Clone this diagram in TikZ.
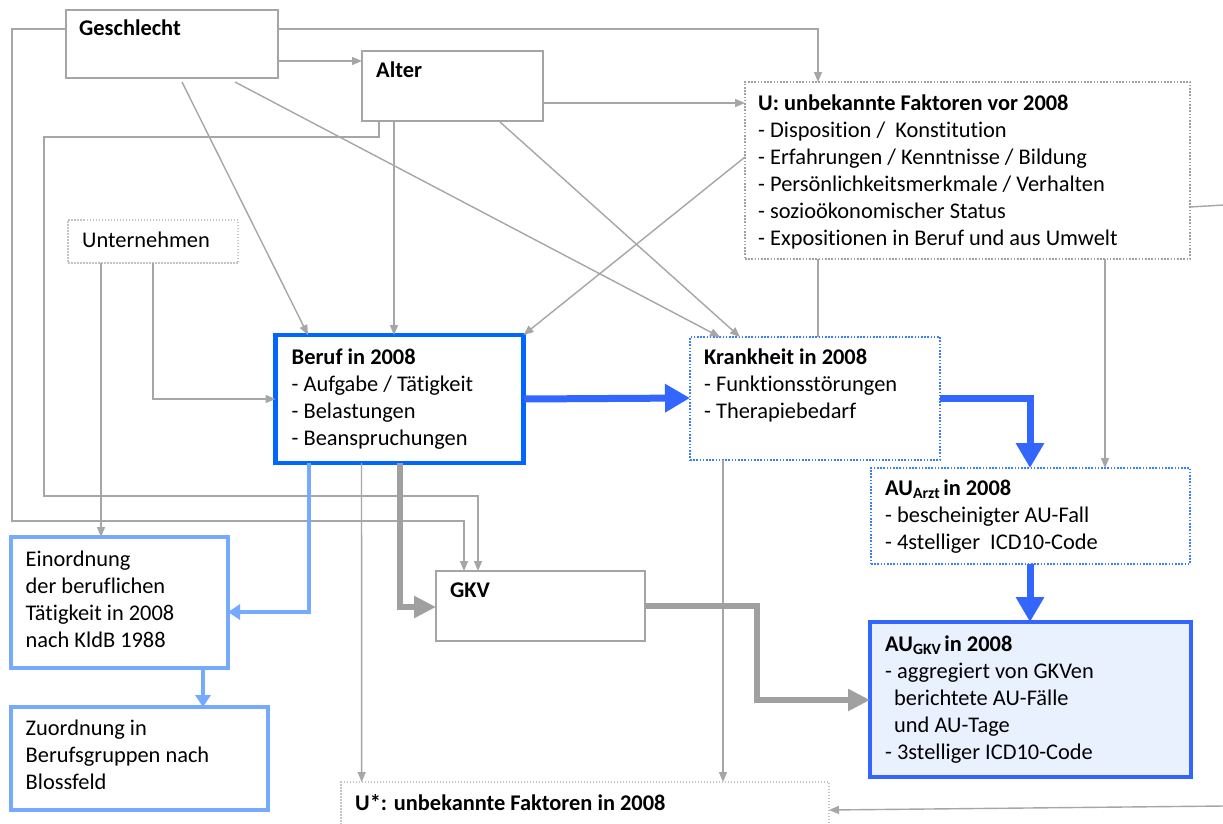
\documentclass[tikz,border=0pt]{standalone}
\usepackage{fontspec}
\setmainfont{Carlito}[Ligatures=NoCommon]
\usetikzlibrary{arrows.meta,calc}
\definecolor{lgray}{HTML}{A6A6A6}
\definecolor{bgray}{HTML}{A5A5A5}
\definecolor{dgray}{HTML}{A0A0A0}
\definecolor{ltgray}{HTML}{C4C4C4}
\definecolor{tgray}{HTML}{A0A0A0}
\definecolor{bblue}{HTML}{0066FF}
\definecolor{ablue}{HTML}{3366FF}
\definecolor{dblue}{HTML}{3A7BFF}
\definecolor{lblue}{HTML}{75AAFF}
\definecolor{gfill}{HTML}{EAF1FE}
\newcommand\mylines[1]{\vtop{\halign{##\hfil\cr#1\crcr}}}
\begin{document}
\begin{tikzpicture}[x=1pt,y=-1pt,
  bx/.style={anchor=north west, inner sep=0pt, outer sep=0pt},
  graybox/.style={bx, draw=bgray, line width=2.4pt},
  dotgray/.style={bx, draw=dgray, line width=1.6pt, dash pattern=on 1.6pt off 1.6pt},
  dotlight/.style={bx, draw=ltgray, line width=1.5pt, dash pattern=on 1.5pt off 1.5pt},
  dotblue/.style={bx, draw=dblue, line width=1.6pt, dash pattern=on 1.6pt off 1.6pt},
  berufbox/.style={bx, draw=bblue, line width=4.5pt},
  lbbox/.style={bx, draw=lblue, line width=4pt},
  gkvbox/.style={bx, draw=ablue, line width=4pt, fill=gfill},
  txt/.style={anchor=base west, inner sep=0pt, font=\fontsize{22.4}{27}\selectfont},
  btxt/.style={anchor=base west, inner sep=0pt, font=\fontsize{22.4}{27}\selectfont\bfseries},
  gline/.style={draw=lgray, line width=1.4pt},
  garrow/.style={draw=lgray, line width=1.4pt, -{Triangle[length=10pt,width=8pt]}},
  barrow/.style={draw=ablue, line width=7pt, -{Triangle[length=25pt,width=27pt]}},
  lbarrow/.style={draw=lblue, line width=4pt, -{Triangle[length=12pt,width=15pt]}},
  tgarrow/.style={draw=tgray, line width=5.5pt, -{Triangle[length=22pt,width=21pt]}},
]
\useasboundingbox (0,0) rectangle (1223,823);
\clip (0,0) rectangle (1223,823);
\fill[white] (0,0) rectangle (1223,823);

% boxes
\node[graybox, minimum width=212pt, minimum height=68pt] (gesch) at (66,10) {};
\node[graybox, minimum width=181pt, minimum height=70pt] (alter) at (362,51) {};
\node[dotgray, minimum width=445pt, minimum height=177pt] (ubox) at (745,82) {};
\node[dotlight, minimum width=170pt, minimum height=43pt] (unt) at (68,220) {};
\node[berufbox, minimum width=248pt, minimum height=128pt] (beruf) at (275.5,335) {};
\node[dotblue, minimum width=250pt, minimum height=123pt] (krank) at (690,337) {};
\node[dotblue, minimum width=319pt, minimum height=96pt] (auarzt) at (871,468) {};
\node[gkvbox, minimum width=321pt, minimum height=155pt] (augkv) at (870,622) {};
\node[graybox, minimum width=209pt, minimum height=70pt] (gkv) at (436,571) {};
\node[lbbox, minimum width=217pt, minimum height=131pt] (einord) at (11,537) {};
\node[lbbox, minimum width=257pt, minimum height=103pt] (zuord) at (11,707) {};
\node[dotlight, minimum width=488pt, minimum height=60pt] (ustar) at (341,782) {};

% texts
\node[btxt] (tgesch) at (79,35) {Geschlecht};
\node[btxt] (talter) at (376,77) {Alter};
\node[txt] (tu) at (758,110) {\mylines{\textbf{U: unbekannte Faktoren vor 2008}\cr
- Disposition /\ \ Konstitution\cr
- Erfahrungen / Kenntnisse / Bildung\cr
- Persönlichkeitsmerkmale / Verhalten\cr
- sozioökonomischer Status\cr
- Expositionen in Beruf und aus Umwelt\cr}};
\node[txt] (tunt) at (82,247) {Unternehmen};
\node[txt] (tberuf) at (291.5,364) {\mylines{\textbf{Beruf in 2008}\cr
- Aufgabe / Tätigkeit\cr
- Belastungen\cr
- Beanspruchungen\cr}};
\node[txt] (tkrank) at (704,364) {\mylines{\textbf{Krankheit in 2008}\cr
- Funktionsstörungen\cr
- Therapiebedarf\cr}};
\node[txt] (tauarzt) at (885,495) {\mylines{\textbf{AU\textsubscript{Arzt}\kern3pt in 2008}\cr
- bescheinigter AU-Fall\cr
- 4stelliger\ \ ICD10-Code\cr}};
\node[txt] (taugkv) at (885,651) {\mylines{\textbf{AU\textsubscript{GKV}\kern3pt in 2008}\cr
- aggregiert von GKVen\cr
\hspace*{9pt}berichtete AU-Fälle\cr
\hspace*{9pt}und AU-Tage\cr
- 3stelliger ICD10-Code\cr}};
\node[btxt] (tgkv) at (450,597) {GKV};
\node[txt] (teinord) at (25.5,566) {\mylines{Einordnung\cr
der beruflichen\cr
Tätigkeit in 2008\cr
nach KldB 1988\cr}};
\node[txt] (tzuord) at (25.5,735) {\mylines{Zuordnung in\cr
Berufsgruppen nach\cr
Blossfeld\cr}};
\node[btxt] (tustar) at (355,810) {U*: unbekannte Faktoren in 2008};

% thin gray connectors
\draw[garrow] ($(gesch.north west)+(0,19)$) -| (12,521) -| ($(gkv.north west)+(28,0)$);
\draw[garrow] ($(alter.south west)+(17,0)$) -- ++(0,16) -| (44,496) -| ($(gkv.north west)+(42,0)$);
\draw[garrow] ($(gesch.north east)+(0,19)$) -| ($(ubox.north west)+(73,0)$);
\draw[garrow] ($(gesch.north east)+(0,51)$) -- ($(alter.north west)+(0,10)$);
\draw[garrow] ($(alter.north east)+(0,52)$) -- ($(ubox.north west)+(0,21)$);
\draw[garrow] ($(gesch.south west)+(116,4)$) -- ($(beruf.north west)+(32.5,0)$);
\draw[garrow] ($(gesch.south west)+(169,4)$) -- ($(krank.north west)+(30,0)$);
\draw[garrow] ($(alter.south west)+(138,1)$) -- ($(krank.north west)+(50,0)$);
\draw[garrow] ($(alter.south west)+(32,0)$) -- ($(beruf.north west)+(118.5,0)$);
\draw[garrow] ($(ubox.north west)+(0,75)$) -- (beruf.north east);
\draw[gline] ($(ubox.south west)+(73,0)$) -- ($(krank.north west)+(128,0)$);
\draw[garrow] ($(ubox.south west)+(360,0)$) -- ($(auarzt.north west)+(234,0)$);
\draw[garrow] ($(unt.south west)+(33,0)$) -- ($(einord.north west)+(90,0)$);
\draw[garrow] ($(unt.south west)+(85,0)$) |- ($(beruf.north west)+(0,64)$);
\draw[garrow] ($(beruf.south west)+(86,0)$) -- ($(ustar.north west)+(20.7,0)$);
\draw[garrow] ($(krank.south west)+(33,0)$) -- ($(ustar.north west)+(382,0)$);
\coordinate (redge1) at (1224,205);
\coordinate (redge2) at (1224,806);
\draw[gline] ($(ubox.north east)+(0,125)$) -- (redge1);
\draw[garrow] (redge2) -- ($(ustar.north east)+(0,28)$);

% thick connectors
\draw[barrow] ($(beruf.north east)+(0,64)$) -- ($(krank.north west)+(0,61)$);
\draw[barrow] ($(krank.north east)+(0,61)$) -| ($(auarzt.north west)+(159,0)$);
\draw[barrow] ($(auarzt.south west)+(159,0)$) -- ($(augkv.north west)+(160,0)$);
\draw[lbarrow] ($(beruf.south west)+(33.5,0)$) |- ($(einord.north east)+(0,75)$);
\draw[lbarrow] ($(einord.south west)+(192,0)$) -- ($(zuord.north west)+(192,0)$);
\draw[tgarrow] ($(beruf.south west)+(124.5,0)$) |- ($(gkv.north west)+(0,36)$);
\draw[tgarrow] ($(gkv.north east)+(0,35)$) -| (757,700) -- ($(augkv.north west)+(0,78)$);
\end{tikzpicture}
\end{document}
